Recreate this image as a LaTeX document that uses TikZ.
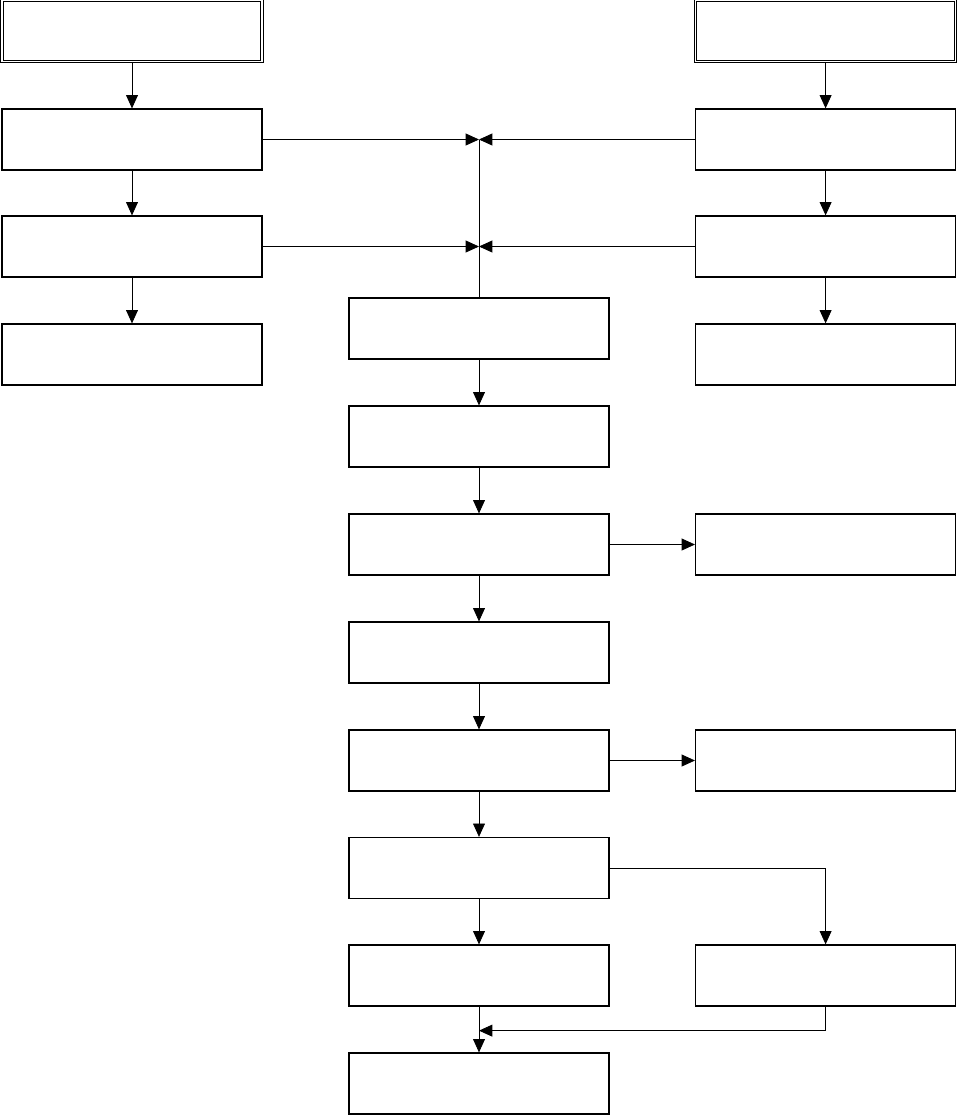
\documentclass[tikz,border=0pt]{standalone}
\usetikzlibrary{arrows.meta,calc}
\begin{document}
\begin{tikzpicture}

% définition des styles
\tikzstyle{boite}=[draw,line width=0.9pt,minimum width=6.5cm,minimum height=1.525cm,inner sep=0pt]
\tikzstyle{double boite}=[boite,double,double distance=1.2pt,line width=0.7pt]
\tikzstyle{fleche}=[-{Triangle[width=8.5pt,length=9.5pt]},line width=0.6pt]
\tikzstyle{trait}=[-,line width=0.6pt]

\useasboundingbox (0,0) rectangle (23.95,-27.875);

% colonne de gauche
\node [double boite] (g1) at (3.3,-0.775) {};
\node [boite] (g2) at (3.3,-3.4875) {};
\node [boite] (g3) at (3.3,-6.1625) {};
\node [boite] (g4) at (3.3,-8.8625) {};

% colonne de droite
\node [double boite] (d1) at (20.64,-0.775) {};
\node [boite] (d2) at (20.64,-3.4875) {};
\node [boite] (d3) at (20.64,-6.1625) {};
\node [boite] (d4) at (20.64,-8.8625) {};
\node [boite] (d5) at (20.64,-13.6125) {};
\node [boite] (d6) at (20.64,-19.0125) {};
\node [boite] (d7) at (20.64,-24.3875) {};

% colonne du milieu
\node [boite] (c1) at (11.975,-8.2125) {};
\node [boite] (c2) at (11.975,-10.9125) {};
\node [boite] (c3) at (11.975,-13.6125) {};
\node [boite] (c4) at (11.975,-16.3125) {};
\node [boite] (c5) at (11.975,-19.0125) {};
\node [boite] (c6) at (11.975,-21.7) {};
\node [boite] (c7) at (11.975,-24.3875) {};
\node [boite] (c8) at (11.975,-27.0875) {};

% points de jonction
\coordinate (j1) at (c1 |- g2);
\coordinate (j2) at (c1 |- g3);
\coordinate (k) at ($(d7.south)+(0,-0.6)$);

% les flèches
\draw[fleche] (g1) -- (g2);
\draw[fleche] (g2) -- (g3);
\draw[fleche] (g3) -- (g4);
\draw[fleche] (d1) -- (d2);
\draw[fleche] (d2) -- (d3);
\draw[fleche] (d3) -- (d4);

\draw[fleche] (g2) -- (j1);
\draw[fleche] (d2) -- (j1);
\draw[fleche] (g3) -- (j2);
\draw[fleche] (d3) -- (j2);
\draw[trait] (c1) -- (j1);

\draw[fleche] (c1) -- (c2);
\draw[fleche] (c2) -- (c3);
\draw[fleche] (c3) -- (d5);
\draw[fleche] (c3) -- (c4);
\draw[fleche] (c4) -- (c5);
\draw[fleche] (c5) -- (d6);
\draw[fleche] (c5) -- (c6);
\draw[fleche] (c6) -- (c7);
\draw[fleche] (c6.east) -| (d7);
\draw[fleche] (c7) -- (c8);
\draw[fleche] (d7.south) |- (c7 |- k);

\end{tikzpicture}
\end{document}
